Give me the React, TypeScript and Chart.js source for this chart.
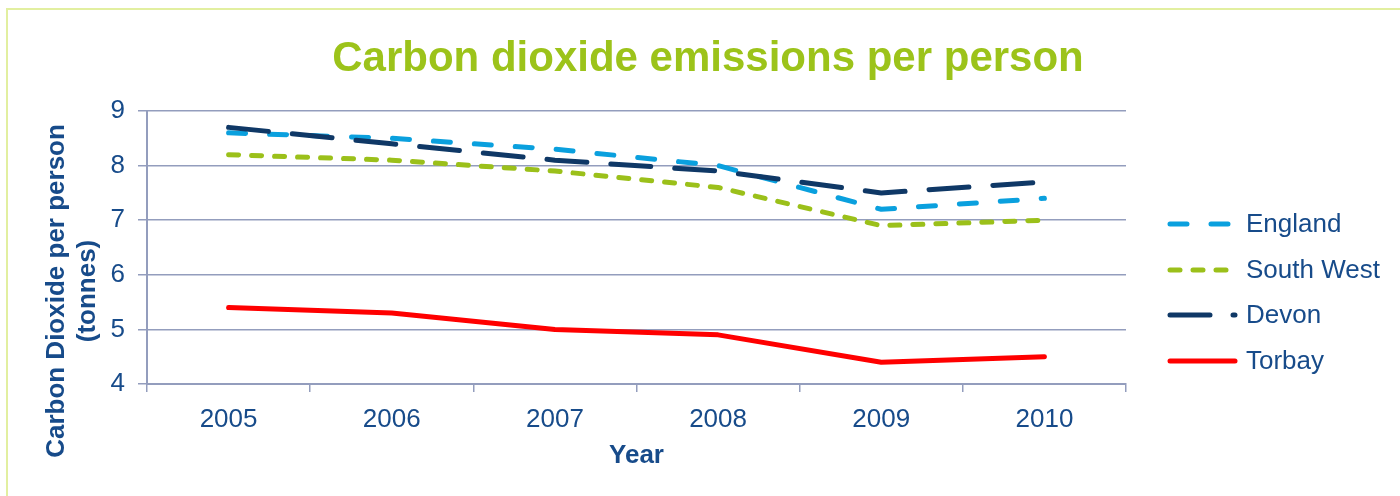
import React, { useEffect, useRef } from "react";
import { Chart, registerables } from "chart.js";

Chart.register(...registerables);

const years = ["2005", "2006", "2007", "2008", "2009", "2010"];
const england = [8.6, 8.5, 8.3, 8.0, 7.2, 7.4];
const southWest = [8.2, 8.1, 7.9, 7.6, 6.9, 7.0];
const devon = [8.7, 8.4, 8.1, 7.9, 7.5, 7.7];
const torbay = [5.4, 5.3, 5.0, 4.9, 4.4, 4.5];

const seriesNames = ["England", "South West", "Devon", "Torbay"];
const seriesColors = ["#0aa0de", "#9bc01a", "#0f3866", "#ff0000"];
const chartTitle = "Carbon dioxide emissions per person";
const yTitleLines = ["Carbon Dioxide per person", "(tonnes)"];
const xTitle = "Year";

const TEXT = "#174b8a";
const GRID = "#939dbd";
const FONT = "'Liberation Sans', Arial, sans-serif";

const plotDashes = [[17, 24], [10, 13], [40, 24], []];
const legendDashes = [[17, 24], [10, 13], [40, 23, 3, 100], []];

const decorPlugin = {
  id: "decor",
  beforeDraw(chart: any) {
    const ctx = chart.ctx;
    ctx.save();
    ctx.strokeStyle = "#e2efa0";
    ctx.lineWidth = 2;
    ctx.beginPath();
    ctx.moveTo(7, 500);
    ctx.lineTo(7, 9);
    ctx.lineTo(1400, 9);
    ctx.stroke();
    ctx.restore();
  },
  afterDraw(chart: any) {
    const ctx = chart.ctx;
    const ca = chart.chartArea;
    ctx.save();
    // main title
    ctx.fillStyle = "#9cc31a";
    ctx.font = `bold 42px ${FONT}`;
    ctx.textAlign = "center";
    ctx.textBaseline = "alphabetic";
    ctx.fillText(chartTitle, 708, 71);
    // x title
    ctx.fillStyle = TEXT;
    ctx.font = `bold 26px ${FONT}`;
    ctx.fillText(xTitle, (ca.left + ca.right) / 2, 463);
    // y title
    ctx.save();
    ctx.translate(0, 291);
    ctx.rotate(-Math.PI / 2);
    ctx.fillText(yTitleLines[0], 0, 64);
    ctx.fillText(yTitleLines[1], 0, 95);
    ctx.restore();
    // legend
    const x0 = ca.right + 44;
    const x1 = x0 + 65;
    const ys = [224, 270, 315, 361];
    ctx.font = `26px ${FONT}`;
    ctx.textAlign = "left";
    ctx.textBaseline = "middle";
    seriesNames.forEach((name, i) => {
      ctx.save();
      ctx.strokeStyle = seriesColors[i];
      ctx.lineWidth = 5;
      ctx.lineCap = "round";
      ctx.setLineDash(legendDashes[i]);
      ctx.beginPath();
      ctx.moveTo(x0, ys[i]);
      ctx.lineTo(x1, ys[i]);
      ctx.stroke();
      ctx.restore();
      ctx.fillStyle = TEXT;
      ctx.fillText(name, x1 + 11, ys[i] + 1);
    });
    ctx.restore();
  },
};

export default function App() {
  const ref = useRef<HTMLCanvasElement | null>(null);
  useEffect(() => {
    document.body.style.margin = "0";
    const canvas = ref.current;
    if (!canvas) return;
    const data = [england, southWest, devon, torbay];
    const chart = new Chart(canvas, {
      type: "line",
      data: {
        labels: years,
        datasets: data.map((d, i) => ({
          label: seriesNames[i],
          data: d,
          borderColor: seriesColors[i],
          backgroundColor: seriesColors[i],
          borderWidth: 5,
          borderDash: plotDashes[i],
          borderCapStyle: "round" as const,
          borderJoinStyle: "round" as const,
          pointRadius: 0,
          tension: 0,
          fill: false,
          order: i === 2 ? 0 : i === 3 ? 0 : 1,
        })),
      },
      options: {
        responsive: false,
        animation: false,
        devicePixelRatio: 1,
        layout: { padding: { left: 0, top: 111, right: 274, bottom: 52 } },
        plugins: { legend: { display: false }, title: { display: false }, tooltip: { enabled: false } },
        scales: {
          x: {
            offset: true,
            grid: { offset: true, drawOnChartArea: false, drawTicks: true, tickLength: 8, color: GRID, lineWidth: 1.5 },
            border: { color: GRID, width: 2 },
            ticks: { color: TEXT, font: { family: FONT, size: 26 }, padding: 12, maxRotation: 0 },
            afterFit: (s: any) => { s.height = 60; },
          },
          y: {
            min: 4,
            max: 9,
            ticks: { stepSize: 1, color: TEXT, font: { family: FONT, size: 26 }, padding: 13 },
            grid: { color: GRID, lineWidth: 1.5, tickLength: 9 },
            border: { color: GRID, width: 2 },
            afterFit: (s: any) => { s.width = 147; },
          },
        },
      },
      plugins: [decorPlugin],
    });
    return () => chart.destroy();
  }, []);
  return (
    <div style={{ width: 1400, height: 496 }}>
      <canvas ref={ref} width={1400} height={496} style={{ display: "block" }} />
    </div>
  );
}
